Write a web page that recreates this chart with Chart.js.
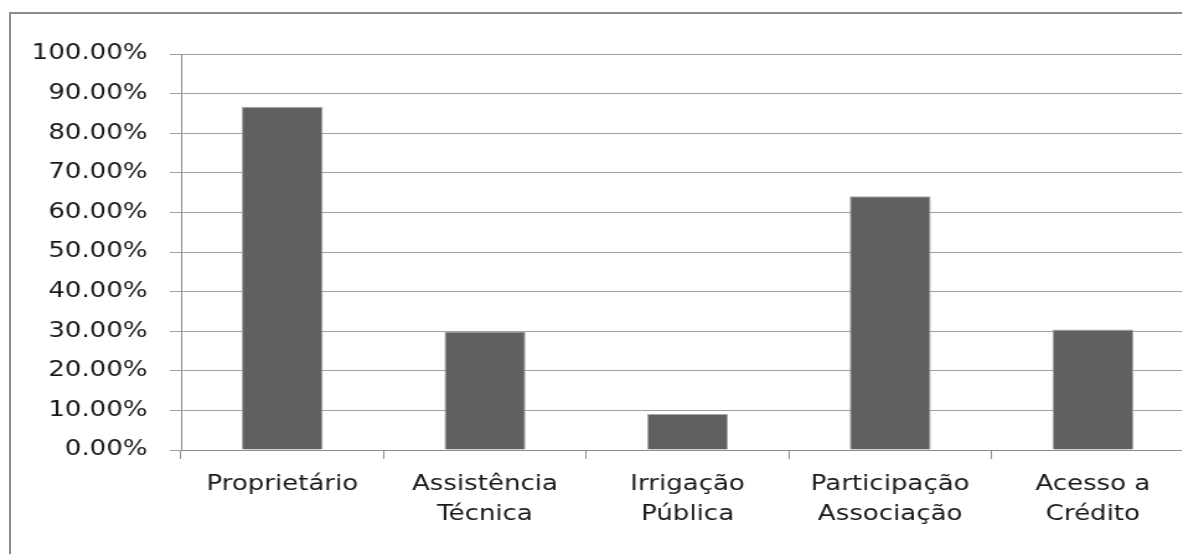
<!DOCTYPE html>
<html>
<head>
<meta charset="utf-8">
<script src="https://cdn.jsdelivr.net/npm/chart.js@4.4.0/dist/chart.umd.min.js"></script>
<style>
  html, body { margin: 0; padding: 0; background: #fff; overflow: hidden; }
  body { width: 1182px; height: 554px; position: relative; }
  /* outer chart frame, cut off at right and bottom like the source */
  .frame { position: absolute; left: 9px; top: 12px; width: 1400px; height: 800px; border: 2px solid #8c8c8c; }
  /* the source text is stretched wide, so the canvas is stretched too */
  .stretch { position: absolute; left: 0; top: 0; width: 975px; height: 554px; transform: scaleX(1.24); transform-origin: 0 0; }
</style>
</head>
<body>
<div class="frame"></div>
<div class="stretch"><canvas id="chart"></canvas></div>
<script>
// data
const categories = [
    ['Proprietário'],
    ['Assistência', 'Técnica'],
    ['Irrigação', 'Pública'],
    ['Participação', 'Associação'],
    ['Acesso a', 'Crédito']
];
const percentages = [86.7, 29.9, 9.1, 64.1, 30.4];
const yMin = 0;
const yMax = 100;
const yStep = 10;

Chart.defaults.font.family = '"DejaVu Sans", sans-serif';
Chart.defaults.font.size = 21;
Chart.defaults.color = '#1a1a1a';

new Chart(document.getElementById('chart'), {
    type: 'bar',
    data: {
        labels: categories,
        datasets: [{
            data: percentages,
            backgroundColor: '#606060',
            borderColor: '#a8a8a8',
            borderWidth: 1,
            barPercentage: 0.4,
            categoryPercentage: 1
        }]
    },
    options: {
        responsive: true,
        maintainAspectRatio: false,
        animation: false,
        layout: { padding: { top: 54, right: 12, bottom: 0, left: 0 } },
        plugins: {
            legend: { display: false },
            tooltip: { enabled: false }
        },
        scales: {
            x: {
                offset: true,
                grid: { drawOnChartArea: false, drawTicks: true, tickLength: 9, color: '#8c8c8c', offset: true },
                border: { display: true, color: '#8c8c8c' },
                ticks: { padding: 11, maxRotation: 0, autoSkip: false, font: { size: 21, lineHeight: 1.43 } },
                afterFit: axis => { axis.height = 104; }
            },
            y: {
                min: yMin,
                max: yMax,
                grid: { color: '#a0a0a0', tickLength: 9 },
                border: { display: true, color: '#8c8c8c' },
                ticks: {
                    stepSize: yStep,
                    padding: 18,
                    callback: v => v.toFixed(2) + '%'
                },
                afterFit: axis => { axis.width = 146; }
            }
        }
    }
});
</script>
</body>
</html>
